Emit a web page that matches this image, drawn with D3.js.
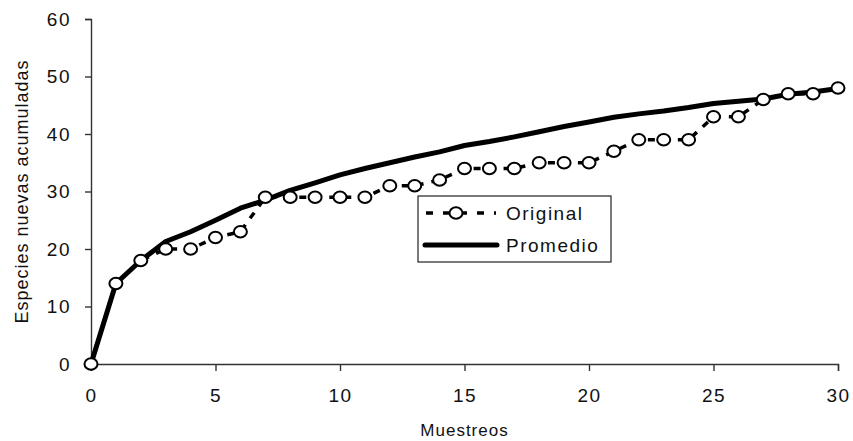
<!DOCTYPE html>
<html>
<head>
<meta charset="utf-8">
<script src="https://cdn.jsdelivr.net/npm/d3@7"></script>
<style>
  body { margin: 0; background: #fff; }
  text { font-family: "Liberation Sans", Arial, sans-serif; fill: #111; }
</style>
</head>
<body>
<svg width="853" height="441"></svg>
<script>
// data
const muestreos = [0,1,2,3,4,5,6,7,8,9,10,11,12,13,14,15,16,17,18,19,20,21,22,23,24,25,26,27,28,29,30];
const original  = [0,14,18,20,20,22,23,29,29,29,29,29,31,31,32,34,34,34,35,35,35,37,39,39,39,43,43,46,47,47,48];
const promedio  = [0,14,18,21.3,23,25,27.1,28.5,30.2,31.5,32.9,34,35,36,36.9,38,38.7,39.5,40.4,41.3,42.1,42.9,43.5,44,44.6,45.3,45.7,46.1,46.9,47.3,47.9];
const xTicks = [0,5,10,15,20,25,30];
const yTicks = [0,10,20,30,40,50,60];
const seriesNames = ["Original", "Promedio"];

const svg = d3.select("svg");
const x = d3.scaleLinear().domain([0, 30]).range([91, 838]);
const y = d3.scaleLinear().domain([0, 60]).range([364, 19]);

const fontSize = "19px", spacing = "1.5px";

// axes
const yAxis = svg.append("g")
    .attr("transform", `translate(${x(0)},0)`)
    .call(d3.axisLeft(y).tickValues(yTicks).tickSize(6).tickPadding(14));
const xAxis = svg.append("g")
    .attr("transform", `translate(0,${y(0)})`)
    .call(d3.axisBottom(x).tickValues(xTicks).tickSize(7).tickPadding(14));

[xAxis, yAxis].forEach(g => {
  g.select(".domain").attr("stroke", "#333").attr("stroke-width", 1.4);
  g.selectAll(".tick line").attr("stroke", "#333").attr("stroke-width", 1.4);
  g.selectAll(".tick text")
    .attr("font-family", "Liberation Sans, Arial, sans-serif")
    .attr("font-size", fontSize)
    .attr("letter-spacing", spacing)
    .attr("fill", "#111");
});
xAxis.selectAll(".tick text").attr("dy", "0.9em");

// axis titles
svg.append("text")
    .attr("x", (x(0) + x(30)) / 2)
    .attr("y", 436)
    .attr("text-anchor", "middle")
    .attr("font-size", "17px")
    .attr("letter-spacing", "1px")
    .text("Muestreos");

svg.append("text")
    .attr("transform", `translate(28,${(y(0) + y(60)) / 2}) rotate(-90)`)
    .attr("text-anchor", "middle")
    .attr("font-size", "18px")
    .attr("letter-spacing", "1px")
    .text("Especies nuevas acumuladas");

// Promedio line
const line = d3.line().x(d => x(d[0])).y(d => y(d[1]));
svg.append("path")
    .datum(muestreos.map((m, i) => [m, promedio[i]]))
    .attr("fill", "none")
    .attr("stroke", "#000")
    .attr("stroke-width", 5)
    .attr("stroke-linejoin", "round")
    .attr("d", line);

// Original dashed line + markers
const origPts = muestreos.map((m, i) => [m, original[i]]);
svg.append("path")
    .datum(origPts)
    .attr("fill", "none")
    .attr("stroke", "#000")
    .attr("stroke-width", 3.5)
    .attr("stroke-dasharray", "7,8")
    .attr("d", line);

svg.append("g").selectAll("ellipse")
    .data(origPts)
    .enter()
    .append("ellipse")
    .attr("cx", d => x(d[0]))
    .attr("cy", d => y(d[1]))
    .attr("rx", 6.5)
    .attr("ry", 5.8)
    .attr("fill", "#fff")
    .attr("stroke", "#000")
    .attr("stroke-width", 2);

// --- Legend ---
const legend = svg.append("g").attr("transform", "translate(418,196)");
legend.append("rect")
    .attr("width", 193)
    .attr("height", 66)
    .attr("fill", "#fff")
    .attr("stroke", "#222")
    .attr("stroke-width", 1.2);

legend.append("line")
    .attr("x1", 8).attr("x2", 78)
    .attr("y1", 17).attr("y2", 17)
    .attr("stroke", "#000")
    .attr("stroke-width", 3.5)
    .attr("stroke-dasharray", "7,10");
legend.append("ellipse")
    .attr("cx", 38).attr("cy", 17)
    .attr("rx", 6.5).attr("ry", 5.8)
    .attr("fill", "#fff")
    .attr("stroke", "#000")
    .attr("stroke-width", 2);
legend.append("line")
    .attr("x1", 7).attr("x2", 79)
    .attr("y1", 49).attr("y2", 49)
    .attr("stroke", "#000")
    .attr("stroke-width", 5)
    .attr("stroke-linecap", "round");

seriesNames.forEach((name, i) => {
  legend.append("text")
      .attr("x", 88)
      .attr("y", 24 + i * 32)
      .attr("font-size", fontSize)
      .attr("letter-spacing", spacing)
      .text(name);
});
</script>
</body>
</html>
